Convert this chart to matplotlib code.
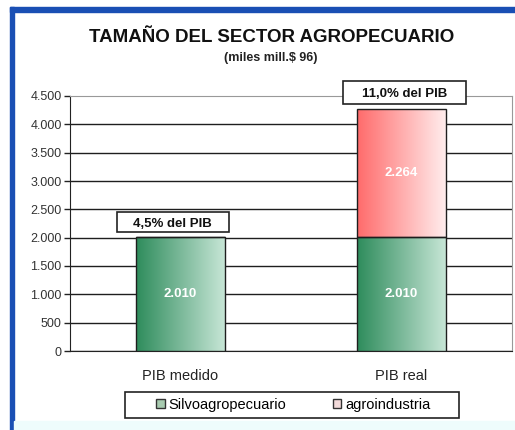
import matplotlib
matplotlib.use("Agg")
import matplotlib.pyplot as plt
import matplotlib.patches as mpatches
import numpy as np

plt.rcParams['font.family'] = ['Liberation Sans', 'DejaVu Sans']

# datos (miles mill.$ 96)
categorias = ["PIB medido", "PIB real"]
silvo = [2010, 2010]
agroind = [0, 2264]
etiquetas_pib = ["4,5% del PIB", "11,0% del PIB"]
yticks = [0, 500, 1000, 1500, 2000, 2500, 3000, 3500, 4000, 4500]

fig = plt.figure(figsize=(5.15, 4.30), dpi=100)
W, H = 515, 430

# marco azul y fondo
fig.patches.append(mpatches.Rectangle((10 / W, 0), 4 / W, 1 - 7 / H, transform=fig.transFigure,
                                      color="#1a4fb4", zorder=0))
fig.patches.append(mpatches.Rectangle((10 / W, 1 - 12 / H), 1, 5 / H, transform=fig.transFigure,
                                      color="#1a4fb4", zorder=0))
fig.patches.append(mpatches.Rectangle((14 / W, 0), 1, 9 / H, transform=fig.transFigure,
                                      color="#eefcfc", zorder=0))

ax = fig.add_axes([70 / W, 1 - 351 / H, 442 / W, 255 / H])
x = np.arange(len(categorias))
ancho = 0.4

def degradado(patch, c1, c2):
    bx, by = patch.get_x(), patch.get_y()
    bw, bh = patch.get_width(), patch.get_height()
    if bh <= 0:
        return
    t = np.linspace(0, 1, 256)
    img = np.zeros((1, 256, 3))
    for i in range(3):
        img[0, :, i] = c1[i] + (c2[i] - c1[i]) * t
    im = ax.imshow(img, extent=[bx, bx + bw, by, by + bh], aspect="auto", zorder=3,
                   interpolation="bilinear")
    im.set_clip_path(patch)

b1 = ax.bar(x, silvo, ancho, facecolor="none", edgecolor="#1e1e1e", linewidth=1.0, zorder=4)
b2 = ax.bar(x, agroind, ancho, bottom=silvo, facecolor="none", edgecolor="#1e1e1e",
            linewidth=1.0, zorder=4)
for p in b1:
    degradado(p, (0.18, 0.55, 0.36), (0.78, 0.90, 0.84))
for p in b2:
    degradado(p, (1.0, 0.42, 0.42), (1.0, 0.93, 0.93))

# valores dentro de las barras
for i in range(len(categorias)):
    ax.text(x[i], silvo[i] / 2, f"{silvo[i]:,}".replace(",", "."), ha="center", va="center",
            color="white", fontsize=9.5, fontweight="bold", zorder=5)
    if agroind[i] > 0:
        ax.text(x[i], silvo[i] + agroind[i] / 2, f"{agroind[i]:,}".replace(",", "."),
                ha="center", va="center", color="white", fontsize=9.5, fontweight="bold", zorder=5)

# etiquetas % PIB (cuadros)
desplaz = [-0.036, 0.014]
anchos_caja = [0.507, 0.557]
altos_caja = [350, 400]
for i in range(len(categorias)):
    tot = silvo[i] + agroind[i]
    cx = x[i] + desplaz[i]
    base = tot + 88
    ax.add_patch(mpatches.Rectangle((cx - anchos_caja[i] / 2, base), anchos_caja[i], altos_caja[i],
                                    facecolor="white", edgecolor="#222222", linewidth=1.2,
                                    zorder=6, clip_on=False))
    ax.text(cx, base + altos_caja[i] / 2, etiquetas_pib[i], ha="center", va="center_baseline",
            fontsize=9.5, fontweight="bold", zorder=7, color="#111111")

ax.set_xlim(-0.5, 1.5)
ax.set_ylim(0, 4500)
ax.set_yticks(yticks)
ax.set_yticklabels([f"{v:,}".replace(",", ".") for v in yticks], fontsize=9, color="#333333")
ax.set_xticks(x)
ax.set_xticklabels(categorias, fontsize=10.5, color="#222222")
ax.tick_params(axis="x", length=0, pad=13)
ax.tick_params(axis="y", length=4, width=1, color="#222222", pad=2)
for v in yticks[:-1]:
    ax.axhline(v, color="#1e1e1e", linewidth=1.0, zorder=1)
ax.spines["top"].set_color("#999999")
ax.spines["right"].set_color("#999999")
ax.spines["left"].set_color("#222222")
ax.spines["bottom"].set_color("#222222")

fig.text(272 / W, 1 - 37 / H, "TAMAÑO DEL SECTOR AGROPECUARIO", ha="center", va="center",
         fontsize=13.5, fontweight="bold", color="#111111")
fig.text(271 / W, 1 - 58 / H, "(miles mill.$ 96)", ha="center", va="center",
         fontsize=9, fontweight="bold", color="#222222")

# leyenda con marco propio
fig.patches.append(mpatches.Rectangle((125 / W, 1 - 418 / H), 334 / W, 26 / H,
                                      transform=fig.transFigure, facecolor="white",
                                      edgecolor="#222222", linewidth=1.2, zorder=1))
handles = [mpatches.Patch(facecolor="#a8cbb0", edgecolor="#333333", label="Silvoagropecuario"),
           mpatches.Patch(facecolor="#f3dada", edgecolor="#333333", label="agroindustria")]
leg = fig.legend(handles=handles, loc="center", bbox_to_anchor=(293 / W, 1 - 405 / H), ncol=2,
                 fontsize=10.5, frameon=False, handlelength=0.6, handleheight=0.6,
                 handletextpad=0.25, columnspacing=3.2, borderpad=0.2)
leg.set_zorder(2)

fig.savefig("out.png", dpi=100)
